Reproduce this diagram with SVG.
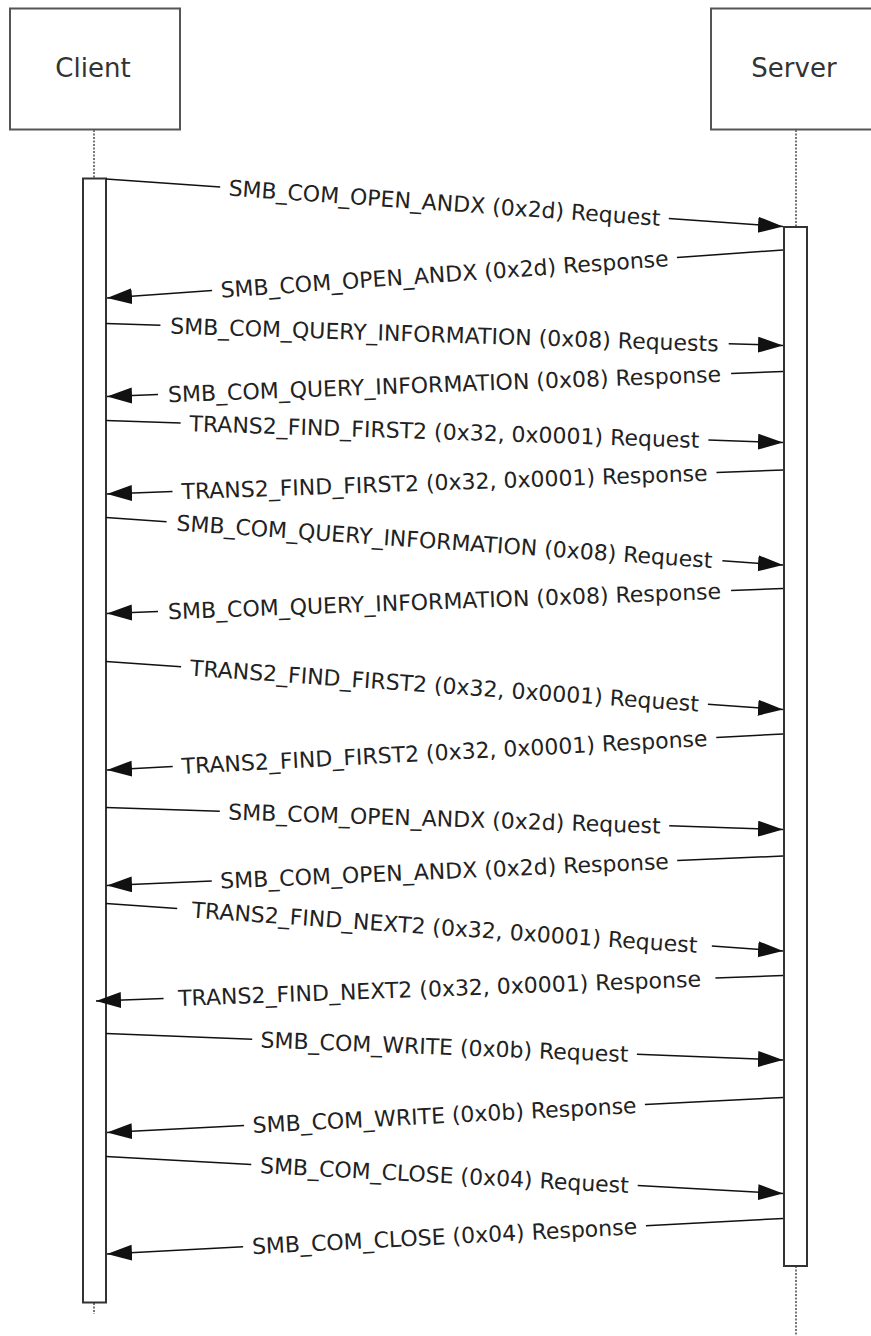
<svg xmlns="http://www.w3.org/2000/svg" width="871" height="1336" viewBox="0 0 871 1336">
<style>
.box{fill:#fff;stroke:#555;stroke-width:2}
.bar{fill:#fff;stroke:#333;stroke-width:2}
.life{stroke:#777;stroke-width:2;stroke-dasharray:2 1.5;fill:none}
.title{font-family:"DejaVu Sans",Verdana,sans-serif;font-size:26px;fill:#333;text-anchor:middle}
.lbl{font-family:"DejaVu Sans",Verdana,sans-serif;font-size:22px;fill:#222;text-anchor:middle}
.msg line{stroke:#111;stroke-width:1.5;fill:none}
.msg line.a{marker-end:url(#arr)}
</style>
<defs>
<marker id="arr" markerUnits="userSpaceOnUse" markerWidth="26" markerHeight="18" refX="25" refY="8" orient="auto" viewBox="0 0 26 18">
<path d="M0,0 L25,8 L0,16 z" fill="#111"/>
</marker>
</defs>
<g id="client">
<rect class="box" x="10" y="8.5" width="170" height="121"/>
<text class="title" x="93" y="77">Client</text>
<line class="life" x1="94" y1="130" x2="94" y2="178"/>
<line class="life" x1="94" y1="1303" x2="94" y2="1314"/>
<rect class="bar" x="83" y="178.5" width="23" height="1124"/>
</g>
<g id="server">
<rect class="box" x="711" y="8.5" width="168" height="121"/>
<text class="title" x="794" y="77">Server</text>
<line class="life" x1="796" y1="130" x2="796" y2="227"/>
<line class="life" x1="796" y1="1266" x2="796" y2="1336"/>
<rect class="bar" x="784" y="227" width="23" height="1039"/>
</g>
<g id="connectors" class="msg">
<line x1="106" y1="179" x2="220.2" y2="187"/><line class="a" x1="668.8" y1="218.5" x2="783" y2="226.5"/>
<text class="lbl" transform="translate(444.5,202.75) rotate(4.013)" y="8">SMB_COM_OPEN_ANDX (0x2d) Request</text>

<line x1="783" y1="250" x2="676.9" y2="257.5"/><line class="a" x1="212.1" y1="290.5" x2="107" y2="298"/>
<text class="lbl" transform="translate(444.5,274) rotate(-4.056)" y="8">SMB_COM_OPEN_ANDX (0x2d) Response</text>

<line x1="106" y1="323.5" x2="160.4" y2="325.3"/><line class="a" x1="728.7" y1="343.7" x2="783" y2="345.5"/>
<text class="lbl" transform="translate(444.5,334.5) rotate(1.861)" y="8">SMB_COM_QUERY_INFORMATION (0x08) Requests</text>

<line x1="783" y1="371.5" x2="731.1" y2="373.4"/><line class="a" x1="158" y1="394.6" x2="107" y2="396.5"/>
<text class="lbl" transform="translate(444.5,384) rotate(-2.115)" y="8">SMB_COM_QUERY_INFORMATION (0x08) Response</text>

<line x1="106" y1="420.5" x2="180.6" y2="422.9"/><line class="a" x1="708.4" y1="440.1" x2="783" y2="442.5"/>
<text class="lbl" transform="translate(444.5,431.5) rotate(1.861)" y="8">TRANS2_FIND_FIRST2 (0x32, 0x0001) Request</text>

<line x1="783" y1="470" x2="716.5" y2="472.4"/><line class="a" x1="172.5" y1="491.6" x2="107" y2="494"/>
<text class="lbl" transform="translate(444.5,482) rotate(-2.030)" y="8">TRANS2_FIND_FIRST2 (0x32, 0x0001) Response</text>

<line x1="106" y1="517.5" x2="166.6" y2="521.75"/><line class="a" x1="722.4" y1="560.75" x2="783" y2="565"/>
<text class="lbl" transform="translate(444.5,541.25) rotate(4.013)" y="8">SMB_COM_QUERY_INFORMATION (0x08) Request</text>

<line x1="783" y1="588.5" x2="731.1" y2="590.4"/><line class="a" x1="158" y1="611.6" x2="107" y2="613.5"/>
<text class="lbl" transform="translate(444.5,601) rotate(-2.115)" y="8">SMB_COM_QUERY_INFORMATION (0x08) Response</text>

<line x1="106" y1="661.5" x2="181.1" y2="666.8"/><line class="a" x1="707.9" y1="704.2" x2="783" y2="709.5"/>
<text class="lbl" transform="translate(444.5,685.5) rotate(4.056)" y="8">TRANS2_FIND_FIRST2 (0x32, 0x0001) Request</text>

<line x1="783" y1="734" x2="716.3" y2="737.55"/><line class="a" x1="172.7" y1="766.45" x2="107" y2="770"/>
<text class="lbl" transform="translate(444.5,752) rotate(-3.044)" y="8">TRANS2_FIND_FIRST2 (0x32, 0x0001) Response</text>

<line x1="106" y1="807.5" x2="219.8" y2="811.2"/><line class="a" x1="669.2" y1="825.8" x2="783" y2="829.5"/>
<text class="lbl" transform="translate(444.5,818.5) rotate(1.861)" y="8">SMB_COM_OPEN_ANDX (0x2d) Request</text>

<line x1="783" y1="856" x2="677.2" y2="860.6"/><line class="a" x1="211.8" y1="880.9" x2="107" y2="885.5"/>
<text class="lbl" transform="translate(444.5,870.75) rotate(-2.495)" y="8">SMB_COM_OPEN_ANDX (0x2d) Response</text>

<line x1="106" y1="903.5" x2="177.2" y2="908.5"/><line class="a" x1="711.8" y1="946" x2="783" y2="951"/>
<text class="lbl" transform="translate(444.5,927.25) rotate(4.013)" y="8">TRANS2_FIND_NEXT2 (0x32, 0x0001) Request</text>

<line x1="783" y1="975.5" x2="715.4" y2="978"/><line class="a" x1="163.6" y1="998.5" x2="96" y2="1001"/>
<text class="lbl" transform="translate(439.5,988.25) rotate(-2.126)" y="8">TRANS2_FIND_NEXT2 (0x32, 0x0001) Response</text>

<line x1="106" y1="1033.5" x2="252.2" y2="1039.2"/><line class="a" x1="636.9" y1="1054.3" x2="783" y2="1060"/>
<text class="lbl" transform="translate(444.5,1046.75) rotate(2.242)" y="8">SMB_COM_WRITE (0x0b) Request</text>

<line x1="783" y1="1097.5" x2="644.9" y2="1104.6"/><line class="a" x1="244.1" y1="1125.4" x2="107" y2="1132.5"/>
<text class="lbl" transform="translate(444.5,1115) rotate(-2.959)" y="8">SMB_COM_WRITE (0x0b) Response</text>

<line x1="106" y1="1156.5" x2="251.3" y2="1164.4"/><line class="a" x1="637.7" y1="1185.6" x2="783" y2="1193.5"/>
<text class="lbl" transform="translate(444.5,1175) rotate(3.128)" y="8">SMB_COM_CLOSE (0x04) Request</text>

<line x1="783" y1="1218.5" x2="645.9" y2="1225.7"/><line class="a" x1="243.1" y1="1246.8" x2="107" y2="1254"/>
<text class="lbl" transform="translate(444.5,1236.25) rotate(-3.002)" y="8">SMB_COM_CLOSE (0x04) Response</text>
</g>
</svg>
